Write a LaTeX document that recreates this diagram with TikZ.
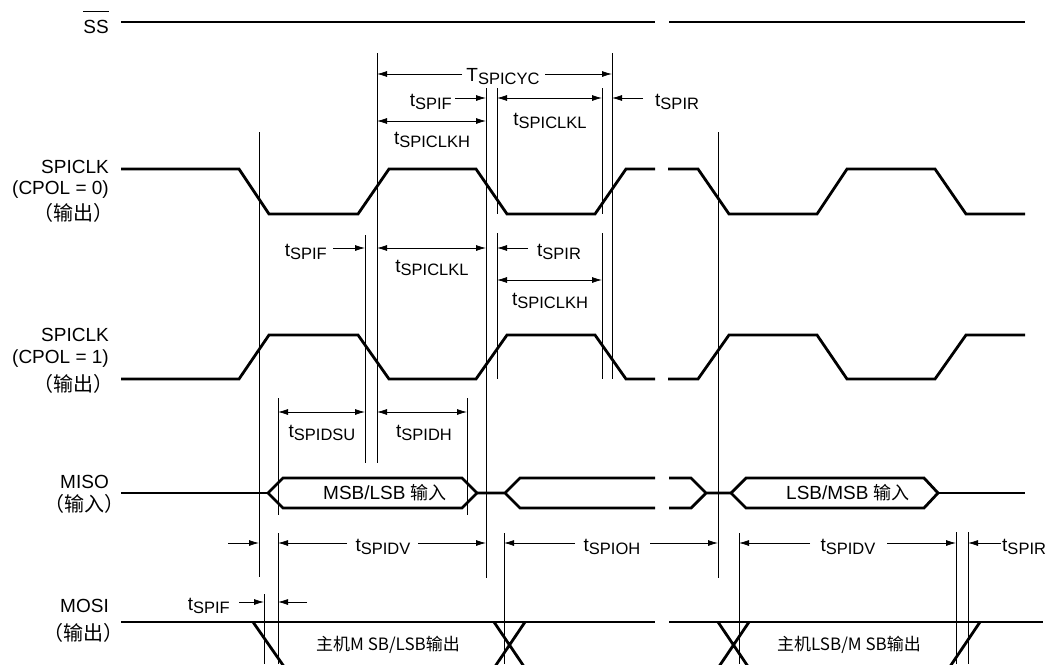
\documentclass[tikz,border=0pt]{standalone}
\usepackage{fontspec}
\setmainfont{Liberation Sans}
\newfontfamily\cjk{Noto Sans CJK SC}
\usetikzlibrary{arrows.meta}
\newcommand{\tsub}[2]{#1\raisebox{-3.5pt}{\fontsize{16.5}{18}\selectfont #2}}

\begin{document}
\begin{tikzpicture}[>={Latex[length=10pt,width=6pt]}, x=1pt, y=-1pt,
  sig/.style={line width=2.8pt},
  guide/.style={line width=0.8pt},
  dim/.style={line width=0.8pt},
  lbl/.style={inner sep=0pt, font=\fontsize{19}{22}\selectfont},
  cjklbl/.style={inner sep=0pt, font=\cjk\fontsize{20}{22}\selectfont}]
  \useasboundingbox (0,0) rectangle (1048,664);
  \clip (0,0) rectangle (1048,664);

  \node[lbl, anchor=base east] (ss) at (109,33) {SS};
  \draw[line width=1pt] ([yshift=8pt]ss.north west) -- ([yshift=8pt]ss.north east);
  \node[lbl, anchor=base east] (clk0) at (109,173) {SPICLK};
  \node[lbl, anchor=base east] (cpol0) at (109,194) {(CPOL = 0)};
  \node[cjklbl, anchor=base east] (out0) at (114,220) {（输出）};
  \node[lbl, anchor=base east] (clk1) at (109,341) {SPICLK};
  \node[lbl, anchor=base east] (cpol1) at (109,363) {(CPOL = 1)};
  \node[cjklbl, anchor=base east] (out1) at (114,391) {（输出）};
  \node[lbl, anchor=base east] (miso) at (109,488) {MISO};
  \node[cjklbl, anchor=base east] (misoin) at (125,511) {（输入）};
  \node[lbl, anchor=base east] (mosi) at (109,612) {MOSI};
  \node[cjklbl, anchor=base east] (mosiout) at (124,640) {（输出）};

  \draw[guide] (259,132) -- (259,577);
  \draw[guide] (377,53) -- (377,463);
  \draw[guide] (612,53) -- (612,379);
  \draw[guide] (486,88) -- (486,578);
  \draw[guide] (497,88) -- (497,214) (497,233) -- (497,379);
  \draw[guide] (602,88) -- (602,214) (602,233) -- (602,379);
  \draw[guide] (365,235) -- (365,463);
  \draw[guide] (718,132) -- (718,578);
  \draw[guide] (278,398) -- (278,515) (467,398) -- (467,515);
  \draw[guide] (264,594) -- (264,664);
  \draw[guide] (278,533) -- (278,664) (504,533) -- (504,664) (739,533) -- (739,664);
  \draw[guide] (956,532) -- (956,664) (968,532) -- (968,664);

  \draw[sig] (121,22) -- (655,22) (669,22) -- (1025,22);
  \draw[sig] (121,169) -- (239,169) -- (269,214) -- (358,214) -- (389,169) -- (476,169) -- (507,214) -- (595,214) -- (626,169) -- (655,169);
  \draw[sig] (668,169) -- (698,169) -- (729,214) -- (817,214) -- (847,169) -- (935,169) -- (966,214) -- (1025,214);
  \draw[sig] (121,379) -- (239,379) -- (269,335) -- (358,335) -- (389,379) -- (476,379) -- (507,335) -- (595,335) -- (626,379) -- (655,379);
  \draw[sig] (668,379) -- (698,379) -- (729,335) -- (817,335) -- (847,379) -- (935,379) -- (966,335) -- (1025,335);

  \draw[sig] (121,493) -- (268,493);
  \draw[sig] (268,493) -- (283,478) -- (462,478) -- (477,493) -- (462,508) -- (283,508) -- cycle;
  \draw[sig] (477,493) -- (505,493) -- (520,478) -- (655,478) (505,493) -- (520,508) -- (655,508);
  \draw[sig] (669,478) -- (691,478) -- (706,493) -- (691,508) -- (669,508) (706,493) -- (731,493);
  \draw[sig] (731,493) -- (746,478) -- (924,478) -- (938,493) -- (924,508) -- (746,508) -- cycle;
  \draw[sig] (938,493) -- (1025,493);
  \node[lbl] (misoa) at (385,493) {MSB/LSB {\cjk\fontsize{18}{20}\selectfont 输入}};
  \node[lbl] (misob) at (848,493) {LSB/MSB {\cjk\fontsize{18}{20}\selectfont 输入}};

  \draw[sig] (121,622) -- (655,622) (669,622) -- (1043,622);
  \draw[sig] (253,622) -- (285,668);
  \draw[sig] (494,622) -- (525,668) (525,622) -- (494,668);
  \draw[sig] (718,622) -- (749,668) (749,622) -- (718,668);
  \draw[sig] (980,622) -- (949,668);
  \node[cjklbl, font=\cjk\fontsize{17}{20}\selectfont] (mosia) at (388,645) {主机M SB/LSB输出};
  \node[cjklbl, font=\cjk\fontsize{17}{20}\selectfont] (mosib) at (849,645) {主机LSB/M SB输出};

  \node[lbl, anchor=base] (tcyc) at (503,81) {\tsub{T}{SPICYC}};
  \draw[dim,->] (462,74) -- (377,74);
  \draw[dim,->] (545,74) -- (612,74);
  \node[lbl, anchor=base east] (fa) at (452,106) {\tsub{t}{SPIF}};
  \draw[dim,->] (455,98) -- (486,98);
  \draw[dim,<->] (497,98) -- (602,98);
  \draw[dim,->] (643,98) -- (612,98);
  \node[lbl, anchor=base west] (ra) at (655,106) {\tsub{t}{SPIR}};
  \draw[dim,<->] (377,121) -- (486,121);
  \node[lbl, anchor=base] (ha) at (432,144) {\tsub{t}{SPICLKH}};
  \node[lbl, anchor=base] (la) at (550,125) {\tsub{t}{SPICLKL}};

  \node[lbl, anchor=base east] (fb) at (327,256) {\tsub{t}{SPIF}};
  \draw[dim,->] (333,248) -- (365,248);
  \draw[dim,<->] (377,248) -- (486,248);
  \node[lbl, anchor=base] (lb) at (432,272) {\tsub{t}{SPICLKL}};
  \draw[dim,->] (528,248) -- (497,248);
  \node[lbl, anchor=base west] (rb) at (537,256) {\tsub{t}{SPIR}};
  \draw[dim,<->] (497,280) -- (602,280);
  \node[lbl, anchor=base] (hb) at (550,305) {\tsub{t}{SPICLKH}};

  \draw[dim,<->] (278,412) -- (365,412);
  \node[lbl, anchor=base] (su) at (322,437) {\tsub{t}{SPIDSU}};
  \draw[dim,<->] (377,412) -- (467,412);
  \node[lbl, anchor=base] (dh) at (424,437) {\tsub{t}{SPIDH}};

  \draw[dim,->] (228,543) -- (259,543);
  \node[lbl, anchor=base] (dva) at (383,551) {\tsub{t}{SPIDV}};
  \draw[dim,->] (347,543) -- (278,543);
  \draw[dim,->] (418,543) -- (486,543);
  \node[lbl, anchor=base] (oh) at (612,551) {\tsub{t}{SPIOH}};
  \draw[dim,->] (575,543) -- (504,543);
  \draw[dim,->] (650,543) -- (718,543);
  \node[lbl, anchor=base] (dvb) at (848,551) {\tsub{t}{SPIDV}};
  \draw[dim,->] (810,543) -- (739,543);
  \draw[dim,->] (887,543) -- (956,543);
  \draw[dim,->] (1001,543) -- (968,543);
  \node[lbl, anchor=base west] (rc) at (1002,551) {\tsub{t}{SPIR}};

  \node[lbl, anchor=base east] (fc) at (230,610) {\tsub{t}{SPIF}};
  \draw[dim,->] (239,602) -- (264,602);
  \draw[dim,->] (307,602) -- (278,602);
\end{tikzpicture}
\end{document}
